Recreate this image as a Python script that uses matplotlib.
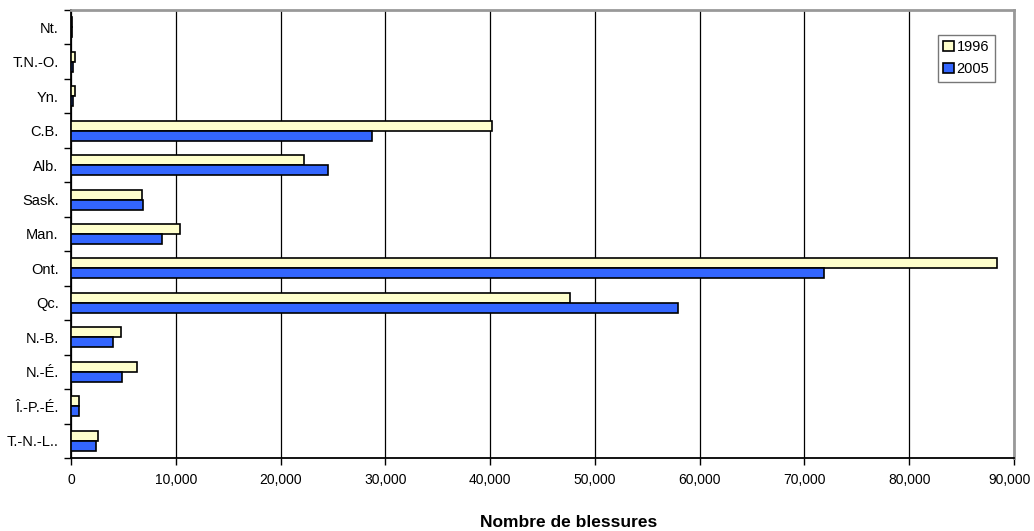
import matplotlib
matplotlib.use('Agg')
import matplotlib.pyplot as plt
import matplotlib.transforms as mtransforms
import numpy as np

plt.rcParams['font.family'] = ['Liberation Sans', 'DejaVu Sans']

# ── Données ────────────────────────────────────────────────────────
provinces = ['T.-N.-L..', 'Î.-P.-É.', 'N.-É.', 'N.-B.', 'Qc.', 'Ont.', 'Man.',
             'Sask.', 'Alb.', 'C.B.', 'Yn.', 'T.N.-O.', 'Nt.']
val_1996 = [2600, 780, 6280, 4790, 47600, 88400, 10430, 6780, 22260, 40150, 400, 340, 50]
val_2005 = [2370, 720, 4910, 3960, 57950, 71850, 8680, 6830, 24490, 28700, 200, 170, 90]
xticks = [0, 10000, 20000, 30000, 40000, 50000, 60000, 70000, 80000, 90000]

# ── Figure ─────────────────────────────────────────────────────────
fig = plt.figure(figsize=(10.34, 5.31), dpi=100)
ax = fig.add_axes([0.0687, 0.1375, 0.912, 0.8437])

y = np.arange(len(provinces))
h = 0.29
ax.barh(y + h / 2, val_1996, height=h, color='#FFFFCC', edgecolor='black',
        linewidth=1.2, label='1996', zorder=3)
ax.barh(y - h / 2, val_2005, height=h, color='#3366FF', edgecolor='black',
        linewidth=1.2, label='2005', zorder=3)

ax.set_xlim(0, 90000)
ax.set_ylim(-0.5, len(provinces) - 0.5)
ax.set_xticks(xticks)
ax.set_xticklabels([f'{v:,}' for v in xticks], fontsize=10)
ax.tick_params(axis='x', direction='out', length=5, width=1, pad=6, color='black')

# dernier label (90,000) légèrement décalé pour rester dans l'image
last = ax.get_xticklabels()[-1]
last.set_transform(last.get_transform() +
                   mtransforms.ScaledTranslation(-4 / 100, 0, fig.dpi_scale_trans))

ax.set_yticks(y)
ax.set_yticklabels(provinces, fontsize=10.5)
ax.set_yticks(np.arange(-0.5, len(provinces), 1), minor=True)
ax.tick_params(axis='y', which='major', length=0, pad=9)
ax.tick_params(axis='y', which='minor', direction='out', length=5, width=1, color='black')

ax.grid(axis='x', color='black', linewidth=0.9, zorder=0)
ax.grid(axis='y', visible=False)

ax.spines['left'].set_color('black')
ax.spines['bottom'].set_color('black')
ax.spines['left'].set_linewidth(1.3)
ax.spines['bottom'].set_linewidth(1.3)
ax.spines['top'].set_color('#999999')
ax.spines['right'].set_color('#999999')
ax.spines['top'].set_linewidth(2)
ax.spines['right'].set_linewidth(2)

ax.set_xlabel('Nombre de blessures', fontsize=12.5, fontweight='bold')
ax.xaxis.set_label_coords(0.528, -0.128)

leg = ax.legend(loc='upper right', bbox_to_anchor=(0.98, 0.945), borderaxespad=0,
                fontsize=10.5, frameon=True, fancybox=False, edgecolor='#555555',
                handlelength=0.7, handleheight=0.7, handletextpad=0.2,
                borderpad=0.4, labelspacing=0.5)
leg.get_frame().set_linewidth(1)

fig.savefig('out.png', dpi=100)
